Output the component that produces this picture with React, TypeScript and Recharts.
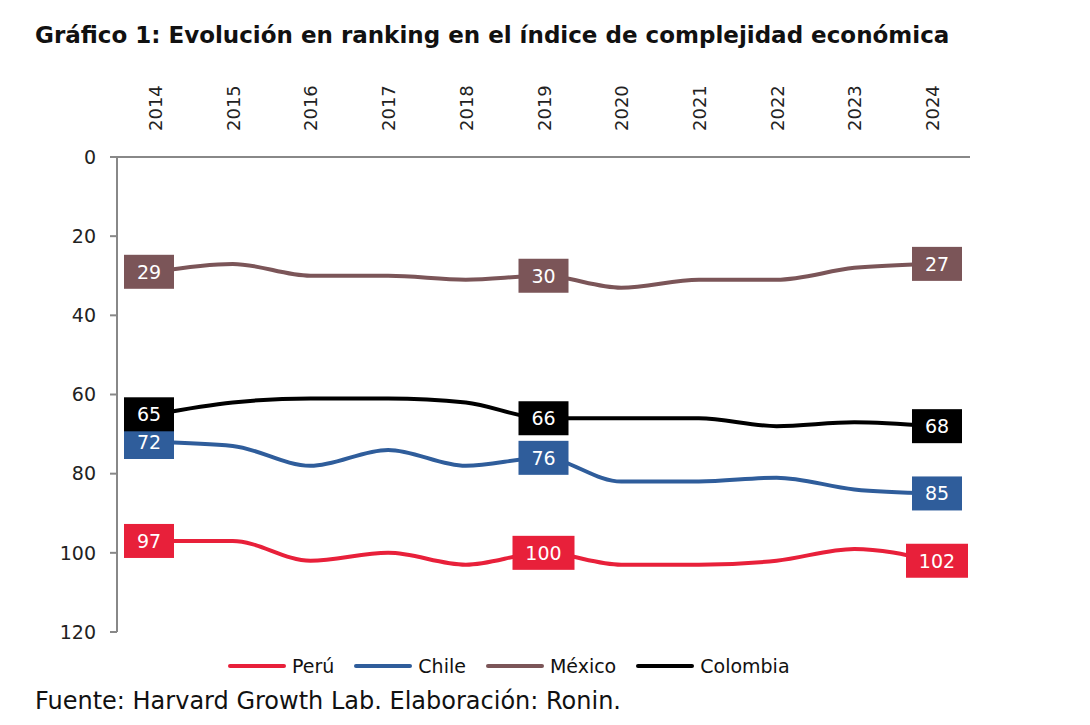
import { LabelList, Line, LineChart, XAxis, YAxis } from "recharts";

const years = ["2014", "2015", "2016", "2017", "2018", "2019", "2020", "2021", "2022", "2023", "2024"];
const peru = [97, 97, 102, 100, 103, 100, 103, 103, 102, 99, 102];
const chile = [72, 73, 78, 74, 78, 76, 82, 82, 81, 84, 85];
const mexico = [29, 27, 30, 30, 31, 30, 33, 31, 31, 28, 27];
const colombia = [65, 62, 61, 61, 62, 66, 66, 66, 68, 67, 68];
const yTicks = [0, 20, 40, 60, 80, 100, 120];
const labelIdx = [0, 5, 10];

const series = [
  { key: "peru", name: "Perú", color: "#e8203a" },
  { key: "chile", name: "Chile", color: "#2f5d9b" },
  { key: "mexico", name: "México", color: "#7b5558" },
  { key: "colombia", name: "Colombia", color: "#000000" },
];

const data = years.map((y, i) => ({
  year: y,
  peru: peru[i],
  chile: chile[i],
  mexico: mexico[i],
  colombia: colombia[i],
}));

const font = "'DejaVu Sans', sans-serif";

const boxLabel = (color: string) => (props: any) => {
  const { x, y, value, index } = props;
  if (!labelIdx.includes(index)) return null;
  const w = String(value).length > 2 ? 62 : 50;
  const cx = index === 0 ? x - 6 : index === 10 ? x + 5 : x;
  return (
    <g>
      <rect x={cx - w / 2} y={y - 17} width={w} height={34} fill={color} />
      <text x={cx} y={y + 7} textAnchor="middle" fill="#fff" fontSize={19} fontFamily={font}>
        {value}
      </text>
    </g>
  );
};

const XTick = (props: any) => {
  const { x, y, payload } = props;
  return (
    <text
      transform={`translate(${x + 7},${y - 18}) rotate(-90)`}
      textAnchor="start"
      fontSize={18}
      fill="#222"
      fontFamily={font}
    >
      {payload.value}
    </text>
  );
};

export default function App() {
  return (
    <div style={{ position: "fixed", top: 0, left: 0, width: 1090, height: 725, background: "#fff", fontFamily: font }}>
      <div style={{ position: "absolute", left: 35, top: 22, fontSize: 23, fontWeight: 700, color: "#111", whiteSpace: "nowrap" }}>
        Gráfico 1: Evolución en ranking en el índice de complejidad económica
      </div>
      <LineChart width={1090} height={725} data={data} margin={{ top: 77, right: 120, left: 57, bottom: 93 }}>
        <XAxis
          dataKey="year"
          orientation="top"
          height={80}
          tick={<XTick />}
          tickLine={false}
          axisLine={{ stroke: "#888", strokeWidth: 2 }}
          interval={0}
          padding={{ left: 38, right: 38 }}
        />
        <YAxis
          reversed
          domain={[0, 120]}
          ticks={yTicks}
          width={60}
          tick={{ fontSize: 19, fill: "#222", fontFamily: font }}
          axisLine={{ stroke: "#888", strokeWidth: 2 }}
          tickLine={{ stroke: "#888", strokeWidth: 2 }}
          tickSize={7}
          tickMargin={14}
        />
        {series.map((s) => (
          <Line
            key={s.key}
            type="monotone"
            dataKey={s.key}
            stroke={s.color}
            strokeWidth={4}
            dot={false}
            isAnimationActive={false}
          >
            <LabelList dataKey={s.key} content={boxLabel(s.color)} />
          </Line>
        ))}
      </LineChart>
      <div style={{ position: "absolute", left: 228, top: 655, display: "flex", gap: 20, fontSize: 19, color: "#111" }}>
        {series.map((s) => (
          <div key={s.key} style={{ display: "flex", alignItems: "center", gap: 6 }}>
            <div style={{ width: 58, height: 4, borderRadius: 2, background: s.color }} />
            <span>{s.name}</span>
          </div>
        ))}
      </div>
      <div style={{ position: "absolute", left: 35, top: 687, fontSize: 24, color: "#111", whiteSpace: "nowrap" }}>
        Fuente: Harvard Growth Lab. Elaboración: Ronin.
      </div>
    </div>
  );
}
